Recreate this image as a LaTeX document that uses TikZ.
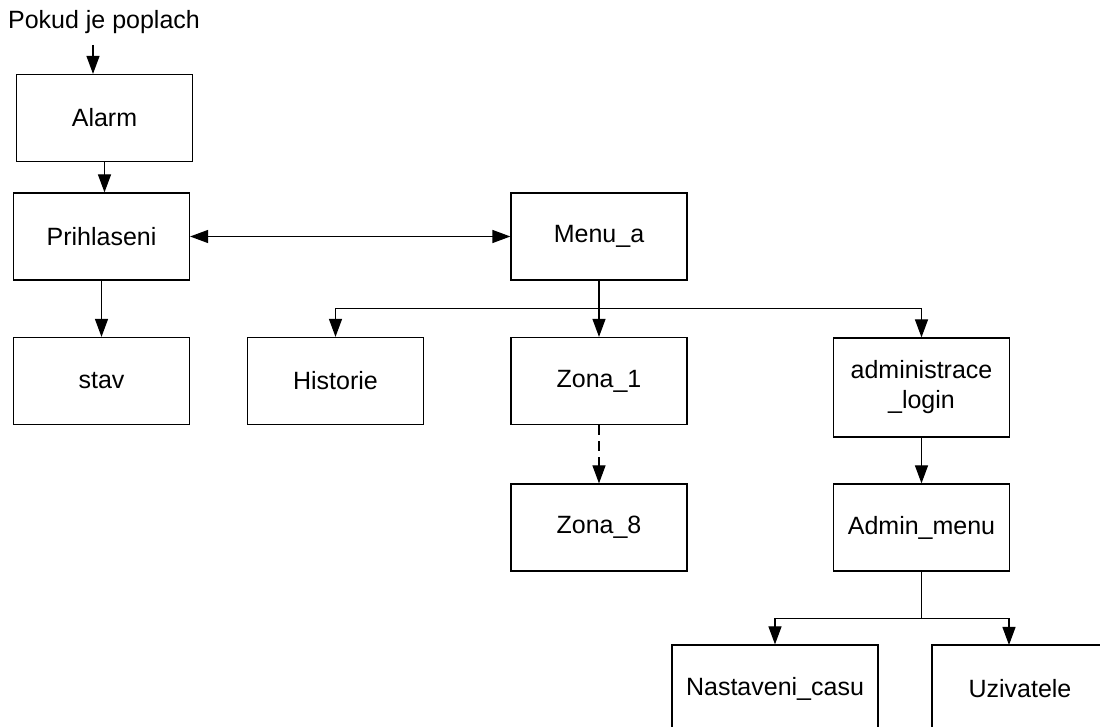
\documentclass[tikz,border=0pt]{standalone}
\usepackage{fontspec}
\setmainfont{Liberation Sans}
\usetikzlibrary{arrows.meta}

\begin{document}
\begin{tikzpicture}[x=0.5pt,y=-0.5pt,>={Triangle[length=9pt,width=6.5pt]},line width=0.6pt,
    box/.style={draw,minimum width=88pt,minimum height=43.5pt,align=center,font=\fontsize{12.5}{15}\selectfont},
    dashline/.style={dash pattern=on 5pt off 3pt}]
        \clip (0,0) rectangle (1100,727);
        %levy sloupec
        \node[font=\fontsize{12.5}{15}\selectfont] (pokud) at (104,22) {Pokud je poplach};
        \coordinate (vstup) at (93,45);
        \node[box] (alarm) at (104.5,118) {Alarm};
        \node[box] (prihl) at (101.5,236.5) {Prihlaseni};
        \node[box] (stav) at (101.5,381) {stav};
        \draw[->] (vstup)--(vstup |- alarm.north);
        \draw[->] (alarm.south)--(alarm.south |- prihl.north);
        \draw[->] (prihl)--(stav);
        %menu
        \node[box] (menu) at (599,236.5) {Menu\_a};
        \node[box] (hist) at (335.5,381) {Historie};
        \node[box] (zona1) at (599,381) {Zona\_1};
        \node[box,minimum height=49.5pt] (adlog) at (921.5,387.5) {administrace\\\_login};
        \node[box] (zona8) at (599,527.5) {Zona\_8};
        \draw[<->] (prihl)--(menu);
        \draw (menu.south)--++(0,28)coordinate(vetev);
        \draw[->] (vetev)-|(hist.north);
        \draw[->] (vetev)-|(adlog.north);
        \draw[->] (vetev)--(zona1);
        \draw[->,dashline] (zona1)--(zona8);
        %administrace
        \node[box] (admenu) at (921.5,527.5) {Admin\_menu};
        \node[box,minimum width=103pt] (cas) at (775,688.5) {Nastaveni\_casu};
        \node[box] (uziv) at (1020,688.5) {Uzivatele};
        \coordinate (uzivin) at (1009,645);
        \draw[->] (adlog)--(admenu);
        \draw (admenu.south)--++(0,47)coordinate(vetev2);
        \draw[->] (vetev2)-|(cas.north);
        \draw[->] (vetev2)-|(uzivin);
    \end{tikzpicture}
\end{document}
